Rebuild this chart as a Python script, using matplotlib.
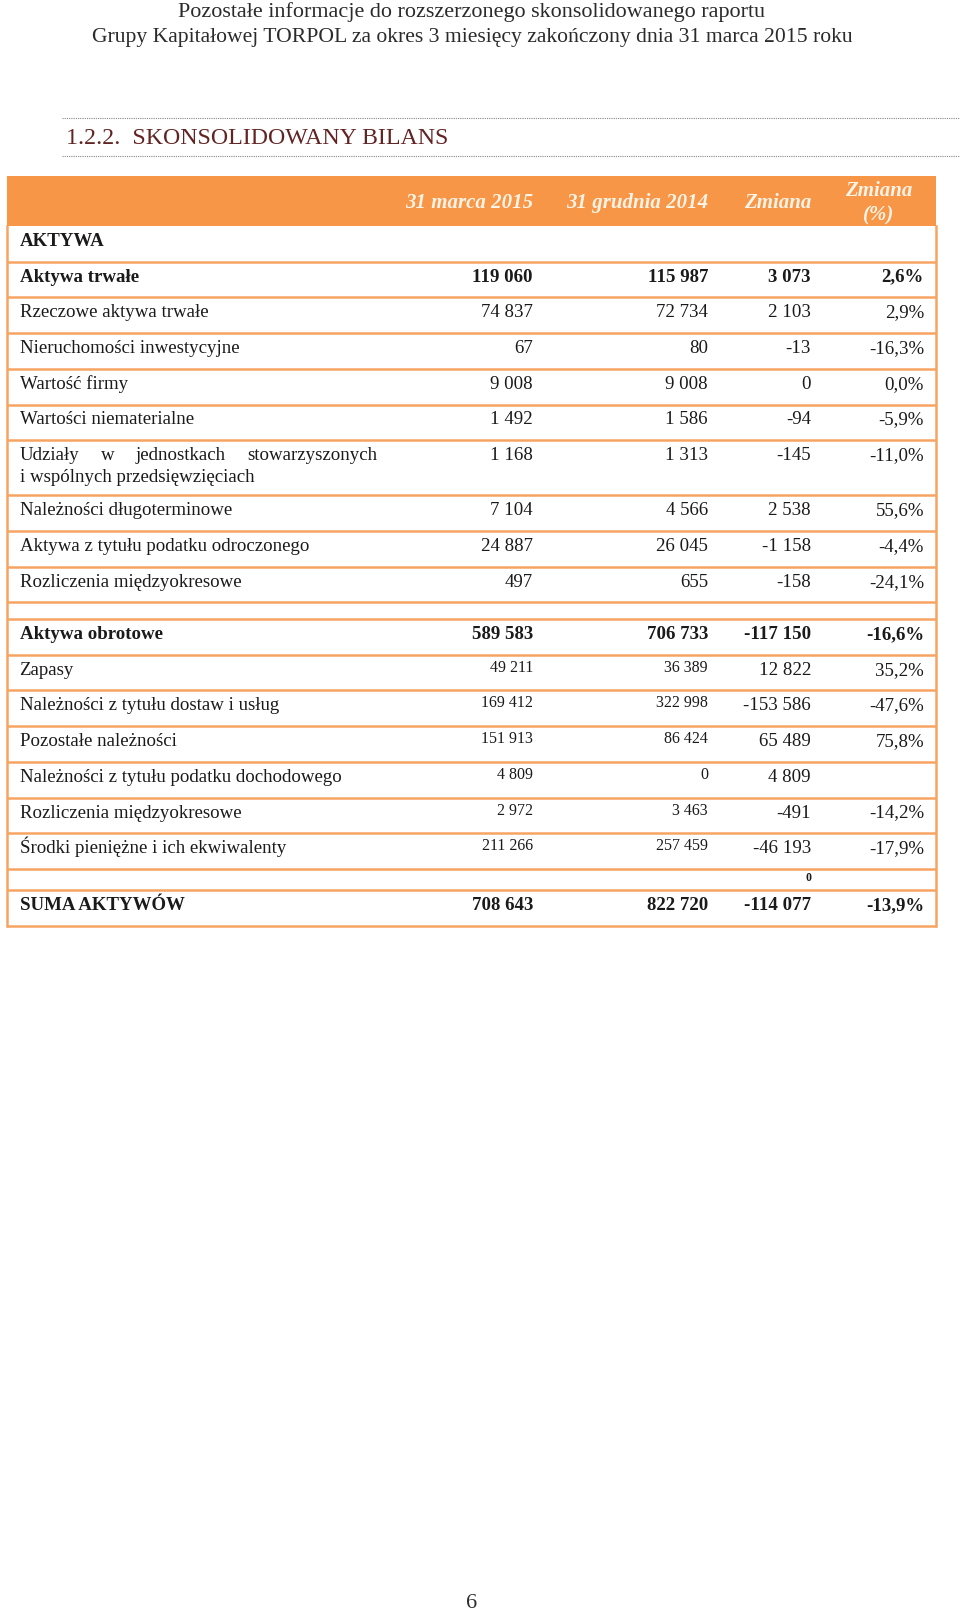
import matplotlib
matplotlib.use("Agg")
import matplotlib.pyplot as plt

# page texts
page_header = ["Pozostałe informacje do rozszerzonego skonsolidowanego raportu",
               "Grupy Kapitałowej TORPOL za okres 3 miesięcy zakończony dnia 31 marca 2015 roku"]
section_title = "1.2.2.  SKONSOLIDOWANY BILANS"
col_headers = ["31 marca 2015", "31 grudnia 2014", "Zmiana", "Zmiana\n(%)"]
page_number = "6"

# fixed assets
fixed_labels = ["Aktywa trwałe", "Rzeczowe aktywa trwałe", "Nieruchomości inwestycyjne",
                "Wartość firmy", "Wartości niematerialne",
                "Udziały w jednostkach stowarzyszonych\ni wspólnych przedsięwzięciach",
                "Należności długoterminowe", "Aktywa z tytułu podatku odroczonego",
                "Rozliczenia międzyokresowe"]
fixed_mar15 = [119060, 74837, 67, 9008, 1492, 1168, 7104, 24887, 497]
fixed_dec14 = [115987, 72734, 80, 9008, 1586, 1313, 4566, 26045, 655]
fixed_chg = [3073, 2103, -13, 0, -94, -145, 2538, -1158, -158]
fixed_pct = [2.6, 2.9, -16.3, 0.0, -5.9, -11.0, 55.6, -4.4, -24.1]

# current assets
curr_labels = ["Aktywa obrotowe", "Zapasy", "Należności z tytułu dostaw i usług",
               "Pozostałe należności", "Należności z tytułu podatku dochodowego",
               "Rozliczenia międzyokresowe", "Środki pieniężne i ich ekwiwalenty"]
curr_mar15 = [589583, 49211, 169412, 151913, 4809, 2972, 211266]
curr_dec14 = [706733, 36389, 322998, 86424, 0, 3463, 257459]
curr_chg = [-117150, 12822, -153586, 65489, 4809, -491, -46193]
curr_pct = [-16.6, 35.2, -47.6, 75.8, None, -14.2, -17.9]

total_label = "SUMA AKTYWÓW"
total_vals = [708643, 822720, -114077, -13.9]

ORANGE = "#F79646"
LINE = "#F5A461"
TXT = "#1a1a1a"
SERIF = ["Liberation Serif", "DejaVu Serif"]


def fmt_num(v):
    return f"{v:,}".replace(",", " ")


def fmt_pct(p):
    return "" if p is None else f"{p:.1f}%".replace(".", ",")


fig = plt.figure(figsize=(9.6, 16.15), dpi=100)
ax = fig.add_axes([0, 0, 1, 1])
ax.set_xlim(0, 960)
ax.set_ylim(1615, 0)
ax.axis("off")
renderer = fig.canvas.get_renderer()


def fit_text(x, y, s, width, **kw):
    t = ax.text(x, y, s, fontsize=10, **kw)
    w = t.get_window_extent(renderer).width
    t.set_fontsize(10 * width / w)
    return t


# page header
fit_text(472, 17.5, page_header[0], 585, ha="center", va="baseline", family=SERIF, color="#2b2b2b")
fit_text(472, 42, page_header[1], 760, ha="center", va="baseline", family=SERIF, color="#2b2b2b")

# section title with dotted rules
ax.plot([62, 960], [118.5, 118.5], color="#888888", lw=0.8, ls=(0, (1, 1)))
ax.plot([62, 960], [156.5, 156.5], color="#888888", lw=0.8, ls=(0, (1, 1)))
fit_text(66, 139, section_title, 381, ha="left", va="center", family=SERIF, color="#622423")

# table geometry
x_left, x_right = 7, 936
col_right = [533, 708, 811, 924]
head_top, head_bot = 177, 226.6

ax.fill_between([x_left, x_right], head_top, head_bot, color=ORANGE, lw=0)
for i, h in enumerate(col_headers[:3]):
    ax.text(col_right[i], 203, h, ha="right", va="center", fontsize=15, family=SERIF,
            style="italic", weight="bold", color="#fdf3e6")
ax.text(879, 203, col_headers[3], ha="center", va="center", fontsize=15, family=SERIF,
        style="italic", weight="bold", color="#fdf3e6", linespacing=1.3)

ax.text(19.5, 245.5, "AKTYWA", ha="left", va="baseline", fontsize=13.6, family=SERIF,
        weight="bold", color=TXT)

row_h = 35.7
y = 262.7
lines_y = [y]


def justify(x0, x1, yb, words, **kw):
    ts = [ax.text(0, yb, w, ha="left", va="baseline", **kw) for w in words]
    ws = [t.get_window_extent(renderer).width for t in ts]
    gap = (x1 - x0 - sum(ws)) / (len(ws) - 1)
    xx = x0
    for t, w in zip(ts, ws):
        t.set_x(xx)
        xx += w + gap


def draw_row(top, label, vals, bold, small_cols=False):
    wt = "bold" if bold else "normal"
    base = top + 19
    lines = label.split("\n")
    if len(lines) > 1:
        justify(19.5, 377, base, lines[0].split(), fontsize=13.6, family=SERIF, color=TXT)
        ax.text(19.5, base + 21.5, lines[1], ha="left", va="baseline", fontsize=13.6,
                family=SERIF, color=TXT)
    else:
        ax.text(19.5, base, label, ha="left", va="baseline", fontsize=13.6, family=SERIF,
                weight=wt, color=TXT)
    for i, v in enumerate(vals):
        small = small_cols and i < 2
        ax.text(col_right[i], base - 3 if small else base, v, ha="right", va="baseline",
                fontsize=11.5 if small else 13.6, family=SERIF, weight=wt, color=TXT)


for i, lab in enumerate(fixed_labels):
    h = 55 if "\n" in lab else row_h
    vals = [fmt_num(fixed_mar15[i]), fmt_num(fixed_dec14[i]), fmt_num(fixed_chg[i]),
            fmt_pct(fixed_pct[i])]
    draw_row(y, lab, vals, bold=(i == 0))
    y += h
    lines_y.append(y)

y += 16.7
lines_y.append(y)

for i, lab in enumerate(curr_labels):
    vals = [fmt_num(curr_mar15[i]), fmt_num(curr_dec14[i]), fmt_num(curr_chg[i]),
            fmt_pct(curr_pct[i])]
    draw_row(y, lab, vals, bold=(i == 0), small_cols=(i > 0))
    y += row_h
    lines_y.append(y)

# blank row with a lone zero
ax.text(808.5, y + 8, "0", ha="center", va="center", fontsize=8.5, family=SERIF,
        weight="bold", color=TXT)
y += 21.5
lines_y.append(y)

draw_row(y, total_label, [fmt_num(v) for v in total_vals[:3]] + [fmt_pct(total_vals[3])],
         bold=True)
y += 35.5
lines_y.append(y)

for ly in lines_y:
    ax.plot([x_left, x_right], [ly, ly], color=LINE, lw=1.8, solid_capstyle="butt")
ax.plot([x_left, x_left], [head_bot, y], color=LINE, lw=1.8)
ax.plot([x_right, x_right], [head_bot, y], color=LINE, lw=1.8)

fit_text(472, 1604, page_number, 11, ha="center", va="center", family=SERIF, color="#2b2b2b")

fig.savefig("out.png", dpi=100)
